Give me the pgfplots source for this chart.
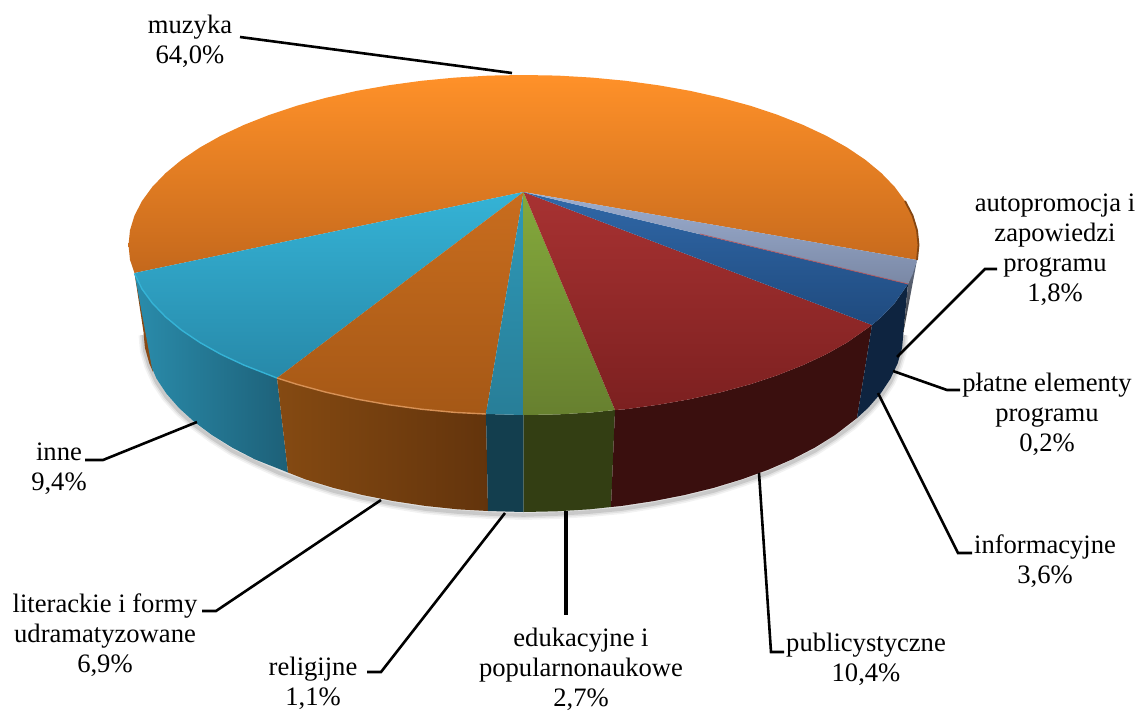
\documentclass[border=0pt]{standalone}
\usepackage{fontspec}
\setmainfont{Liberation Serif}
\usepackage{pgfplots}
\pgfplotsset{compat=1.18}
\usepackage{pgfplotstable}

% outer edge of the pie's base, used for the soft shadow
\pgfplotstableread{
x y
903.5 335
902.1 351
897.7 366
890.5 382
880.6 397
867.9 411
852.6 425
834.8 438
814.6 451
792.2 462
767.8 473
741.5 482
713.5 491
684.1 498
653.5 504
621.8 509
589.5 512
556.6 514
523.5 515
490.4 514
457.5 512
425.2 509
393.5 504
362.9 498
333.5 491
305.5 482
279.2 473
254.8 462
232.4 451
212.2 438
194.4 425
179.1 411
166.4 397
156.5 382
149.3 366
144.9 351
143.5 335
}\shadowedge

\definecolor{orA}{HTML}{FF9129}
\definecolor{orB}{HTML}{C4681C}
\definecolor{orC}{HTML}{C96D1E}
\definecolor{orD}{HTML}{A55816}
\definecolor{orE}{HTML}{854A12}
\definecolor{orF}{HTML}{63340C}
\definecolor{cyA}{HTML}{35B3D6}
\definecolor{cyB}{HTML}{2789A9}
\definecolor{cyC}{HTML}{2A8CAB}
\definecolor{cyD}{HTML}{1D6078}
\definecolor{teA}{HTML}{2E99B8}
\definecolor{teB}{HTML}{287E98}
\definecolor{teC}{HTML}{133E4E}
\definecolor{grA}{HTML}{84A93C}
\definecolor{grB}{HTML}{67802F}
\definecolor{grC}{HTML}{333E13}
\definecolor{reA}{HTML}{A83232}
\definecolor{reB}{HTML}{7C2020}
\definecolor{reC}{HTML}{3A0F0E}
\definecolor{blA}{HTML}{3068A8}
\definecolor{blB}{HTML}{1F4A7E}
\definecolor{blC}{HTML}{0E2440}
\definecolor{gyA}{HTML}{9CAED0}
\definecolor{gyB}{HTML}{7A88A5}

\begin{document}
\begin{tikzpicture}
\begin{axis}[
    scale only axis,
    width=569pt,
    height=354pt,
    xmin=0, xmax=1138,
    ymin=0, ymax=708,
    y dir=reverse,
    hide axis,
    clip=false,
    nodes={font=\fontsize{13.3}{15}\selectfont, align=center, inner sep=0pt},
]
% shadow
\addplot[draw=gray, opacity=.10, line width=5pt] table[x=x,y=y] {\shadowedge};
\addplot[draw=gray, opacity=.15, line width=3.4pt] table[x=x,y=y] {\shadowedge};
\addplot[draw=gray, opacity=.25, line width=1.8pt] table[x=x,y=y] {\shadowedge};

% sides
\addplot[draw=none, fill=orB!70!black] coordinates {(134.5,273)(143.5,332)(144.9,347.7)(149.3,363.3)(153,372)(160,340)};
\addplot[draw=none, left color=cyC, right color=cyD] coordinates {
  (134.5,273.5)(142,289)(152.3,303.1)(165.5,316.8)(181.4,330)(199.9,342.5)(220.9,354.3)(244.2,365.2)(277,378)(288,472.5)
  (254.8,459.3)(232.4,447.7)(212.2,435.2)(194.4,422)(179.1,408.1)(166.4,393.6)(156.5,378.6)(152,368)};
\addplot[draw=none, left color=orE, right color=orF] coordinates {
  (277,378)(296.9,384.3)(326,392.2)(356.6,399.1)(388.4,404.7)(421.3,409.2)(454.9,412.4)(486,414)(488,511)
  (457.5,509.3)(425.2,505.9)(393.5,501.1)(362.9,495.1)(333.5,487.9)(305.5,479.4)(288,472.5)};
\addplot[draw=none, fill=teC] coordinates {(486,414)(523.5,415)(523.5,512)(488,511)};
\addplot[draw=none, fill=grC] coordinates {(523.5,415)(557.9,414.4)(592.1,412.4)(615,410)(611,507)(589.5,509.3)(556.6,511.3)(523.5,512)};
\addplot[draw=none, fill=reC] coordinates {
  (615,410)(625.7,409.2)(658.6,404.7)(690.4,399.1)(721,392.2)(750.1,384.3)(777.4,375.2)(802.8,365.2)(826.1,354.3)(847.1,342.5)(872,325)
  (857,418)(834.8,435.2)(814.6,447.7)(792.2,459.3)(767.8,469.9)(741.5,479.4)(713.5,487.9)(684.1,495.1)(653.5,501.1)(621.8,505.9)(611,507)};
\addplot[draw=none, fill=blC] coordinates {
  (872,325)(881.5,316.8)(894.7,303.1)(908,284)(903.5,332)(902.1,347.7)(897.7,363.3)(890.5,378.6)(880.6,393.6)(867.9,408.1)(857,418)};
\addplot[draw=none, top color=gyB!80!black, bottom color=black!75] coordinates {(917,260)(908,284)(903.5,332)};

% top face
\addplot[draw=none, top color=orA, bottom color=orB] coordinates {
  (523.5,192)(134.5,273)(130,259.8)(128.5,245)(130,230.2)(134.5,215.5)(142,201)(152.3,186.9)(165.5,173.2)
  (181.4,160)(199.9,147.5)(220.9,135.7)(244.2,124.8)(269.6,114.8)(296.9,105.7)(326,97.8)(356.6,90.9)(388.4,85.3)(421.3,80.8)(454.9,77.6)(489.1,75.6)(523.5,75)
  (557.9,75.6)(592.1,77.6)(625.7,80.8)(658.6,85.3)(690.4,90.9)(721,97.8)(750.1,105.7)(777.4,114.8)(802.8,124.8)(826.1,135.7)(847.1,147.5)(865.6,160)(881.5,173.2)(894.7,186.9)
  (905,201)(912.5,215.5)(917,230.2)(918.5,245)(917,260)};
\addplot[draw=none, top color=cyA, bottom color=cyB] coordinates {
  (523.5,192)(134.5,273)(142,289)(152.3,303.1)(165.5,316.8)(181.4,330)(199.9,342.5)(220.9,354.3)(244.2,365.2)(277,378)};
\addplot[draw=none, top color=orC, bottom color=orD] coordinates {
  (523.5,192)(277,378)(296.9,384.3)(326,392.2)(356.6,399.1)(388.4,404.7)(421.3,409.2)(454.9,412.4)(486,414)};
\addplot[draw=none, top color=teA, bottom color=teB] coordinates {(523.5,192)(486,414)(523.5,415)};
\addplot[draw=none, top color=grA, bottom color=grB] coordinates {(523.5,192)(523.5,415)(557.9,414.4)(592.1,412.4)(615,410)};
\addplot[draw=none, top color=reA, bottom color=reB] coordinates {
  (523.5,192)(615,410)(625.7,409.2)(658.6,404.7)(690.4,399.1)(721,392.2)(750.1,384.3)(777.4,375.2)(802.8,365.2)(826.1,354.3)(847.1,342.5)(872,325)};
\addplot[draw=none, top color=blA, bottom color=blB] coordinates {(523.5,192)(872,325)(881.5,316.8)(894.7,303.1)(908,284)};
\addplot[draw=none, top color=gyA, bottom color=gyB] coordinates {(523.5,192)(908,284)(912.5,274.5)(917,260)};

% rims
\addplot[draw=cyA, line width=.7pt] coordinates {(134.5,273.5)(142,289)(152.3,303.1)(165.5,316.8)(181.4,330)(199.9,342.5)(220.9,354.3)(244.2,365.2)(277,378)};
\addplot[draw=orC!75!white, line width=.7pt] coordinates {(277,378)(296.9,384.3)(326,392.2)(356.6,399.1)(388.4,404.7)(421.3,409.2)(454.9,412.4)(486,414)};
\addplot[draw=orD!80!black, line width=.9pt] coordinates {(905,201)(912.5,215.5)(917,230.2)(918.5,245)(917,260)};
\addplot[draw=red!50!gray, opacity=.7, line width=.4pt] coordinates {(700,234)(908,284)};

% leader lines
\addplot[black, line width=1.3pt] coordinates {(240,37)(512,73)};
\addplot[black, line width=1.3pt] coordinates {(897,357)(985,269)(997,269)};
\addplot[black, line width=1.3pt] coordinates {(893,371)(947,390)(960,390)};
\addplot[black, line width=1.3pt] coordinates {(878,393)(958,553)(972,553)};
\addplot[black, line width=1.3pt] coordinates {(759,473)(771,652)(784,652)};
\addplot[black, line width=1.6pt] coordinates {(566,511)(566,615)};
\addplot[black, line width=1.3pt] coordinates {(505,513)(381,672)(367,672)};
\addplot[black, line width=1.3pt] coordinates {(381,500)(216,611)(202,611)};
\addplot[black, line width=1.3pt] coordinates {(197,422)(103,460)(85,460)};

% labels
\node at (axis cs:190,41) {muzyka\\64,0\%};
\node at (axis cs:1055,250) {autopromocja i\\zapowiedzi\\programu\\1,8\%};
\node at (axis cs:1047,414) {płatne elementy\\programu\\0,2\%};
\node at (axis cs:1045,561) {informacyjne\\3,6\%};
\node at (axis cs:866,659) {publicystyczne\\10,4\%};
\node at (axis cs:581,669) {edukacyjne i\\popularnonaukowe\\2,7\%};
\node at (axis cs:313,683) {religijne\\1,1\%};
\node at (axis cs:105,635) {literackie i formy\\udramatyzowane\\6,9\%};
\node at (axis cs:59,469) {inne\\9,4\%};
\path (axis cs:0,0) (axis cs:1138,708);
\end{axis}
\end{tikzpicture}
\end{document}
